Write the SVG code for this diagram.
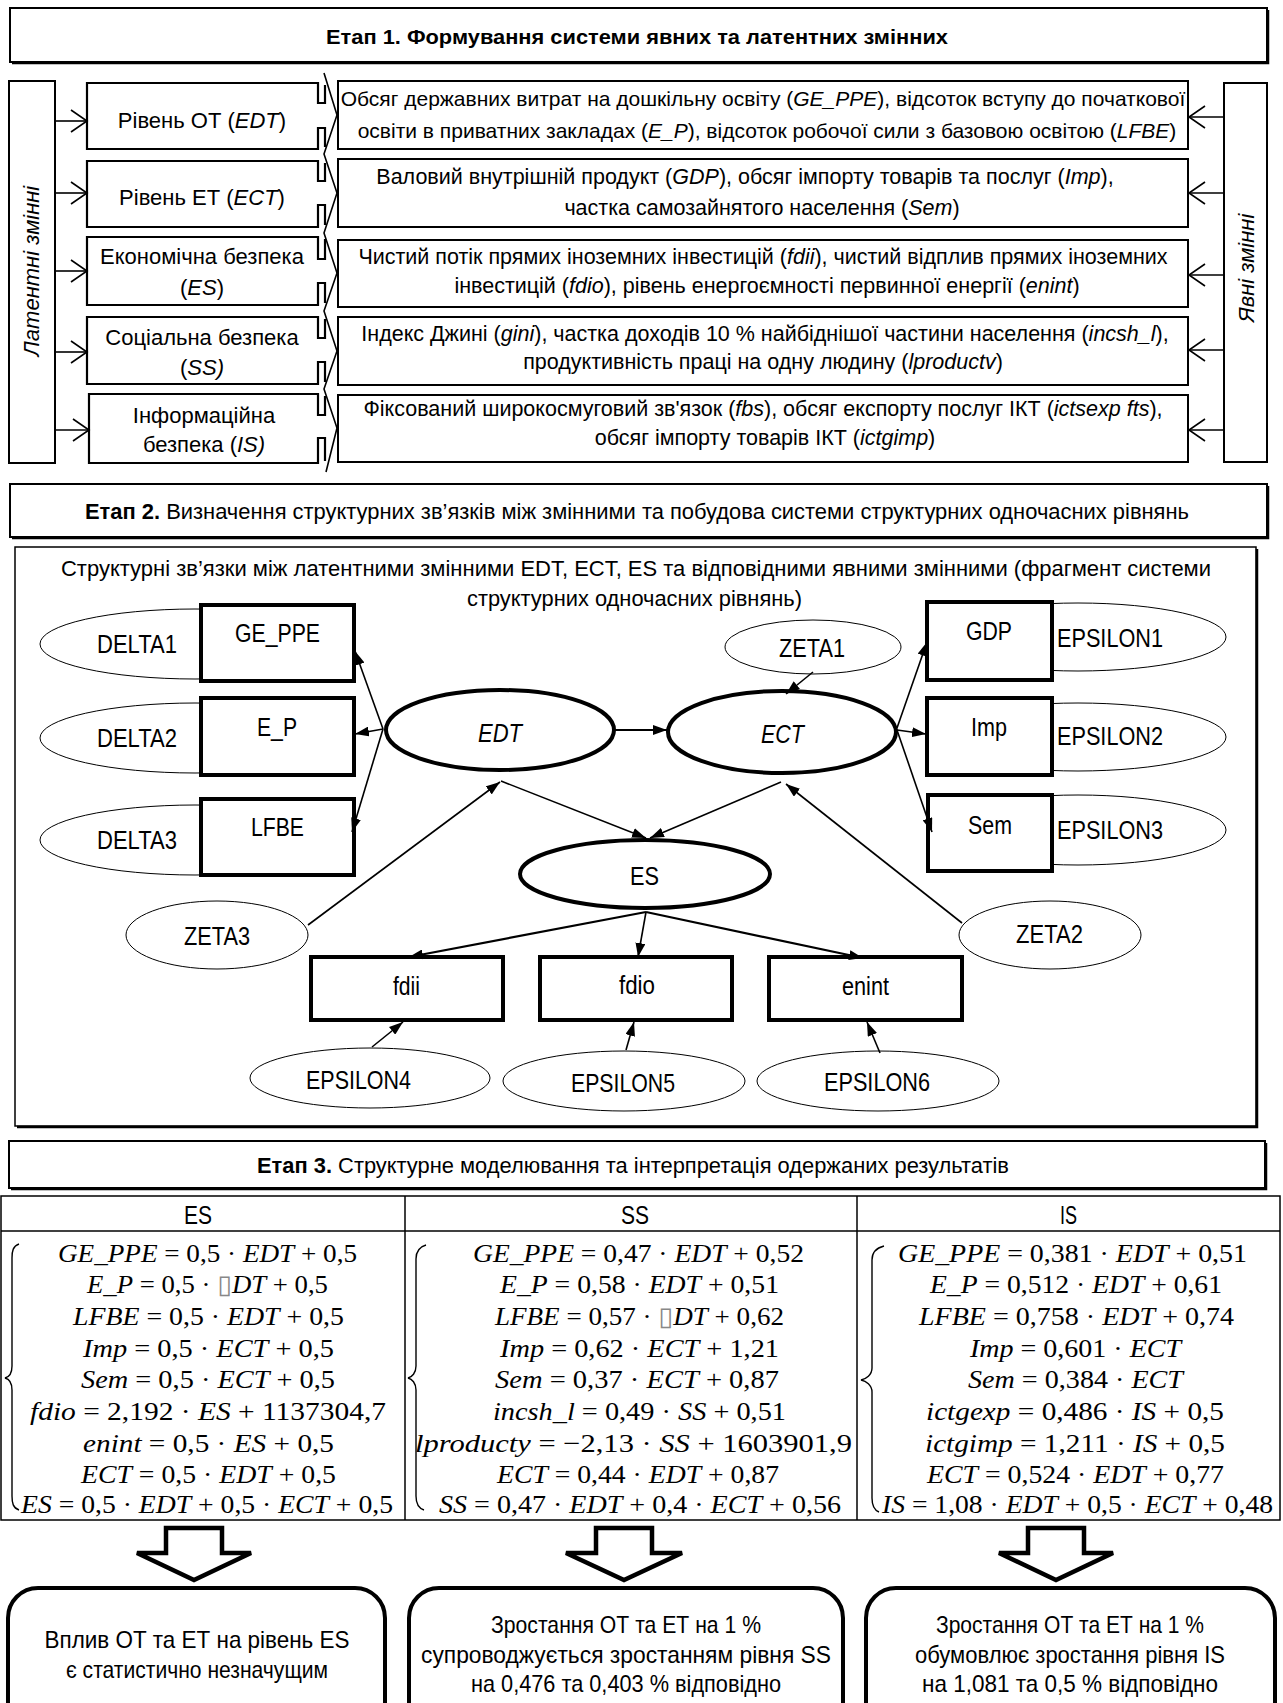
<svg xmlns="http://www.w3.org/2000/svg" width="1283" height="1703" viewBox="0 0 1283 1703">
<defs>
<style>
text { font-family: 'Liberation Sans', Arial, sans-serif; fill: #000; }
.s22 { font-size: 22px; }
.s21 { font-size: 21.5px; }
.i { font-style: italic; }
.b { font-weight: bold; }
.box { fill: #fff; stroke: #000; stroke-width: 2; }
.hdr { fill: #fff; stroke: #000; stroke-width: 2; }
.shadow { fill: none; stroke: #000; stroke-width: 2.5; }
.lat { fill: #fff; stroke: #000; stroke-width: 2.2; }
.zig { fill: none; stroke: #000; stroke-width: 1.6; }
.harrow { fill: none; stroke: #000; stroke-width: 1.6; marker-end: url(#openHead); }
.nar { font-size: 25px; }
.mbox { fill: #fff; stroke: #000; stroke-width: 4; }
.mlat { fill: #fff; stroke: #000; stroke-width: 4; }
.err { fill: #fff; stroke: #000; stroke-width: 1; }
.edge { fill: none; stroke: #000; stroke-width: 1.6; marker-end: url(#tri); }
.edge2 { fill: none; stroke: #000; stroke-width: 2.2; marker-end: url(#tri); }
.grid { fill: none; stroke: #000; stroke-width: 1.5; }
.brace { fill: none; stroke: #000; stroke-width: 1.4; }
.eq { font-family: 'Liberation Serif', 'DejaVu Serif', serif; font-size: 26px; }
.blk { fill: #fff; stroke: #000; stroke-width: 4.5; stroke-linejoin: miter; }
.res { fill: #fff; stroke: #000; stroke-width: 4; }
.rt { font-size: 24px; }
</style>
<marker id="openHead" markerUnits="userSpaceOnUse" markerWidth="20" markerHeight="26" refX="18" refY="12" orient="auto">
  <path d="M2,1 L18,12 L2,23" fill="none" stroke="#000" stroke-width="1.6"/>
</marker>
<marker id="tri" markerUnits="userSpaceOnUse" viewBox="0 0 14 10" markerWidth="14" markerHeight="10" refX="14" refY="5" orient="auto">
  <path d="M0,0 L14,5 L0,10 Z" fill="#000"/>
</marker>
</defs>

<rect width="1283" height="1703" fill="#fff"/>

<!-- ===== Stage 1 ===== -->
<g id="stage1-header">
  <rect class="hdr" x="10" y="8" width="1257" height="54"/>
  <polyline class="shadow" points="1268,10 1268,63 12,63"/>
  <text class="b" x="326" y="44" font-size="21" textLength="622" lengthAdjust="spacingAndGlyphs">Етап 1. Формування системи явних та латентних змінних</text>
</g>

<g id="latent-column">
  <rect class="box" x="9" y="81" width="46" height="382"/>
  <text class="s22 i" transform="translate(39,271) rotate(-90)" text-anchor="middle">Латентні змінні</text>
</g>

<g id="manifest-column">
  <rect class="box" x="1224" y="83" width="43" height="379"/>
  <text class="s22 i" transform="translate(1254,268) rotate(-90)" text-anchor="middle">Явні змінні</text>
</g>

<g id="latent-EDT">
  <path class="lat" d="M325,85 L325,103 L318,103 L318,83 L87,83 L87,149 L318,149 L318,128 L325,128 L325,147"/>
  <text class="s22" x="202" y="128" text-anchor="middle">Рівень ОТ (<tspan class="i">EDT</tspan>)</text>
</g>
<g id="latent-ECT">
  <path class="lat" d="M325,163 L325,181 L318,181 L318,161 L87,161 L87,227 L318,227 L318,205 L325,205 L325,225"/>
  <text class="s22" x="202" y="205" text-anchor="middle">Рівень ЕТ (<tspan class="i">ECT</tspan>)</text>
</g>
<g id="latent-ES">
  <path class="lat" d="M325,239 L325,259 L318,259 L318,237 L87,237 L87,305 L318,305 L318,283 L325,283 L325,303"/>
  <text class="s22" x="202" y="264" text-anchor="middle">Економічна безпека</text>
  <text class="s22" x="202" y="295" text-anchor="middle">(<tspan class="i">ES</tspan>)</text>
</g>
<g id="latent-SS">
  <path class="lat" d="M325,319 L325,338 L318,338 L318,317 L87,317 L87,384 L318,384 L318,362 L325,362 L325,382"/>
  <text class="s22" x="202" y="345" text-anchor="middle">Соціальна безпека</text>
  <text class="s22" x="202" y="375" text-anchor="middle">(<tspan class="i">SS)</tspan></text>
</g>
<g id="latent-IS">
  <path class="lat" d="M325,396 L325,415 L318,415 L318,394 L89,394 L89,463 L318,463 L318,438 L325,438 L325,461"/>
  <text class="s22" x="204" y="423" text-anchor="middle">Інформаційна</text>
  <text class="s22" x="204" y="452" text-anchor="middle">безпека (<tspan class="i">IS)</tspan></text>
</g>

<g id="manifest-EDT">
  <rect class="box" x="338" y="81" width="850" height="68"/>
  <text x="763" y="106" font-size="21" text-anchor="middle">Обсяг державних витрат на дошкільну освіту (<tspan class="i">GE_PPE</tspan>), відсоток вступу до початкової</text>
  <text x="767" y="138" font-size="21" text-anchor="middle">освіти в приватних закладах (<tspan class="i">E_P</tspan>), відсоток робочої сили з базовою освітою (<tspan class="i">LFBE</tspan>)</text>
</g>
<g id="manifest-ECT">
  <rect class="box" x="338" y="159" width="850" height="68"/>
  <text class="s21" x="745" y="184" text-anchor="middle">Валовий внутрішній продукт (<tspan class="i">GDP</tspan>), обсяг імпорту товарів та послуг (<tspan class="i">Imp</tspan>),</text>
  <text class="s21" x="762" y="215" text-anchor="middle">частка самозайнятого населення (<tspan class="i">Sem</tspan>)</text>
</g>
<g id="manifest-ES">
  <rect class="box" x="338" y="240" width="850" height="67"/>
  <text class="s21" x="763" y="264" text-anchor="middle">Чистий потік прямих іноземних інвестицій (<tspan class="i">fdii</tspan>), чистий відплив прямих іноземних</text>
  <text class="s21" x="767" y="293" text-anchor="middle">інвестицій (<tspan class="i">fdio</tspan>), рівень енергоємності первинної енергії (<tspan class="i">enint</tspan>)</text>
</g>
<g id="manifest-SS">
  <rect class="box" x="338" y="317" width="850" height="68"/>
  <text class="s21" x="765" y="341" text-anchor="middle">Індекс Джині (<tspan class="i">gini</tspan>), частка доходів 10 % найбіднішої частини населення (<tspan class="i">incsh_l</tspan>),</text>
  <text class="s21" x="763" y="369" text-anchor="middle">продуктивність праці на одну людину (<tspan class="i">lproductv</tspan>)</text>
</g>
<g id="manifest-IS">
  <rect class="box" x="338" y="395" width="850" height="67"/>
  <text class="s21" x="763" y="416" text-anchor="middle">Фіксований широкосмуговий зв'язок (<tspan class="i">fbs</tspan>), обсяг експорту послуг ІКТ (<tspan class="i">ictsexp fts</tspan>),</text>
  <text class="s21" x="765" y="445" text-anchor="middle">обсяг імпорту товарів ІКТ (<tspan class="i">ictgimp</tspan>)</text>
</g>

<g id="stage1-connectors">
  <line class="harrow" x1="55" y1="121" x2="87" y2="121"/>
  <line class="harrow" x1="55" y1="193" x2="87" y2="193"/>
  <line class="harrow" x1="55" y1="271" x2="87" y2="271"/>
  <line class="harrow" x1="55" y1="352" x2="87" y2="352"/>
  <line class="harrow" x1="55" y1="430" x2="89" y2="430"/>
  <line class="harrow" x1="1224" y1="117" x2="1189" y2="117"/>
  <line class="harrow" x1="1224" y1="193" x2="1189" y2="193"/>
  <line class="harrow" x1="1224" y1="275" x2="1189" y2="275"/>
  <line class="harrow" x1="1224" y1="350" x2="1189" y2="350"/>
  <line class="harrow" x1="1224" y1="430" x2="1189" y2="430"/>
  <polyline class="zig" points="324,73 337,115 324,154 337,193 324,233 337,273 324,311 337,351 324,389 337,428 326,472"/>
</g>

<!-- ===== Stage 2 ===== -->
<g id="stage2-header">
  <rect class="hdr" x="10" y="484" width="1257" height="53"/>
  <polyline class="shadow" points="1268,486 1268,538 12,538"/>
  <text x="85" y="519" font-size="22" textLength="1104" lengthAdjust="spacingAndGlyphs"><tspan class="b">Етап 2.</tspan> Визначення структурних зв’язків між змінними та побудова системи структурних одночасних рівнянь</text>
</g>

<g id="model-frame">
  <rect x="15" y="547" width="1241" height="579" fill="#fff" stroke="#000" stroke-width="1.5"/>
  <polyline class="shadow" points="1257,549 1257,1127 17,1127"/>
  <text x="61" y="576" font-size="22" textLength="1150" lengthAdjust="spacingAndGlyphs">Структурні зв’язки між латентними змінними EDT, ECT, ES та відповідними явними змінними (фрагмент системи</text>
  <text x="467" y="606" font-size="22" textLength="335" lengthAdjust="spacingAndGlyphs">структурних одночасних рівнянь)</text>
</g>

<!-- error terms sit behind their indicator boxes -->
<g id="DELTA1"><ellipse class="err" cx="195" cy="644" rx="155" ry="35"/><text class="nar" x="97" y="653" textLength="80" lengthAdjust="spacingAndGlyphs">DELTA1</text></g>
<g id="DELTA2"><ellipse class="err" cx="195" cy="738" rx="155" ry="35"/><text class="nar" x="97" y="747" textLength="80" lengthAdjust="spacingAndGlyphs">DELTA2</text></g>
<g id="DELTA3"><ellipse class="err" cx="195" cy="840" rx="155" ry="35"/><text class="nar" x="97" y="849" textLength="80" lengthAdjust="spacingAndGlyphs">DELTA3</text></g>
<g id="EPSILON1"><ellipse class="err" cx="1078" cy="637" rx="148" ry="34"/></g>
<g id="EPSILON2"><ellipse class="err" cx="1078" cy="737" rx="148" ry="34"/></g>
<g id="EPSILON3"><ellipse class="err" cx="1078" cy="830" rx="148" ry="35"/></g>

<g id="GE_PPE"><rect class="mbox" x="201" y="605" width="153" height="76"/><text class="nar" x="235" y="642" textLength="85" lengthAdjust="spacingAndGlyphs">GE_PPE</text></g>
<g id="E_P"><rect class="mbox" x="201" y="698" width="153" height="77"/><text class="nar" x="257" y="736" textLength="40" lengthAdjust="spacingAndGlyphs">E_P</text></g>
<g id="LFBE"><rect class="mbox" x="201" y="799" width="153" height="76"/><text class="nar" x="251" y="836" textLength="53" lengthAdjust="spacingAndGlyphs">LFBE</text></g>

<g id="GDP"><rect class="mbox" x="927" y="602" width="125" height="78"/><text class="nar" x="966" y="640" textLength="46" lengthAdjust="spacingAndGlyphs">GDP</text></g>
<g id="Imp"><rect class="mbox" x="927" y="698" width="125" height="77"/><text class="nar" x="971" y="736" textLength="36" lengthAdjust="spacingAndGlyphs">Imp</text></g>
<g id="Sem"><rect class="mbox" x="928" y="795" width="124" height="76"/><text class="nar" x="968" y="834" textLength="44" lengthAdjust="spacingAndGlyphs">Sem</text></g>

<g id="EPSILON-labels">
  <text class="nar" x="1057" y="647" textLength="106" lengthAdjust="spacingAndGlyphs">EPSILON1</text>
  <text class="nar" x="1057" y="745" textLength="106" lengthAdjust="spacingAndGlyphs">EPSILON2</text>
  <text class="nar" x="1057" y="839" textLength="106" lengthAdjust="spacingAndGlyphs">EPSILON3</text>
</g>

<g id="EDT"><ellipse class="mlat" cx="500" cy="730" rx="114" ry="40"/><text class="nar i" x="478" y="742" textLength="44" lengthAdjust="spacingAndGlyphs">EDT</text></g>
<g id="ECT"><ellipse class="mlat" cx="782" cy="732" rx="114" ry="41"/><text class="nar i" x="761" y="743" textLength="43" lengthAdjust="spacingAndGlyphs">ECT</text></g>
<g id="ES"><ellipse class="mlat" cx="645" cy="874" rx="125" ry="34"/><text class="nar" x="630" y="885" textLength="29" lengthAdjust="spacingAndGlyphs">ES</text></g>

<g id="ZETA1"><ellipse class="err" cx="813" cy="647" rx="88" ry="27"/><text class="nar" x="779" y="657" textLength="66" lengthAdjust="spacingAndGlyphs">ZETA1</text></g>
<g id="ZETA2"><ellipse class="err" cx="1050" cy="935" rx="91" ry="34"/><text class="nar" x="1016" y="943" textLength="67" lengthAdjust="spacingAndGlyphs">ZETA2</text></g>
<g id="ZETA3"><ellipse class="err" cx="217" cy="935" rx="91" ry="34"/><text class="nar" x="184" y="945" textLength="66" lengthAdjust="spacingAndGlyphs">ZETA3</text></g>

<g id="fdii"><rect class="mbox" x="311" y="957" width="192" height="63"/><text class="nar" x="393" y="995" textLength="27" lengthAdjust="spacingAndGlyphs">fdii</text></g>
<g id="fdio"><rect class="mbox" x="540" y="957" width="192" height="63"/><text class="nar" x="619" y="994" textLength="36" lengthAdjust="spacingAndGlyphs">fdio</text></g>
<g id="enint"><rect class="mbox" x="769" y="957" width="193" height="63"/><text class="nar" x="842" y="995" textLength="47" lengthAdjust="spacingAndGlyphs">enint</text></g>

<g id="EPSILON4"><ellipse class="err" cx="370" cy="1078" rx="120" ry="30"/><text class="nar" x="306" y="1089" textLength="105" lengthAdjust="spacingAndGlyphs">EPSILON4</text></g>
<g id="EPSILON5"><ellipse class="err" cx="624" cy="1081" rx="121" ry="30"/><text class="nar" x="571" y="1092" textLength="104" lengthAdjust="spacingAndGlyphs">EPSILON5</text></g>
<g id="EPSILON6"><ellipse class="err" cx="878" cy="1081" rx="121" ry="30"/><text class="nar" x="824" y="1091" textLength="106" lengthAdjust="spacingAndGlyphs">EPSILON6</text></g>

<g id="model-connectors">
  <line class="edge" x1="383" y1="729" x2="355" y2="651"/>
  <line class="edge" x1="383" y1="729" x2="355" y2="734"/>
  <line class="edge" x1="383" y1="729" x2="352" y2="832"/>
  <line class="edge2" x1="614" y1="730" x2="667" y2="730"/>
  <line class="edge" x1="813" y1="672" x2="786" y2="694"/>
  <line class="edge" x1="897" y1="728" x2="927" y2="642"/>
  <line class="edge" x1="897" y1="730" x2="926" y2="734"/>
  <line class="edge" x1="897" y1="730" x2="932" y2="832"/>
  <line class="edge" x1="501" y1="781" x2="646" y2="838"/>
  <line class="edge" x1="781" y1="782" x2="650" y2="838"/>
  <line class="edge" x1="308" y1="925" x2="500" y2="782"/>
  <line class="edge" x1="962" y1="923" x2="786" y2="784"/>
  <line class="edge2" x1="646" y1="912" x2="409" y2="957"/>
  <line class="edge" x1="646" y1="912" x2="638" y2="957"/>
  <line class="edge2" x1="646" y1="912" x2="863" y2="958"/>
  <line class="edge" x1="372" y1="1047" x2="403" y2="1022"/>
  <line class="edge" x1="626" y1="1050" x2="634" y2="1022"/>
  <line class="edge" x1="880" y1="1053" x2="867" y2="1022"/>
</g>

<!-- ===== Stage 3 ===== -->
<g id="stage3-header">
  <rect class="hdr" x="9" y="1141" width="1256" height="47"/>
  <polyline class="shadow" points="1266,1143 1266,1189 11,1189"/>
  <text x="257" y="1173" font-size="22" textLength="752" lengthAdjust="spacingAndGlyphs"><tspan class="b">Етап 3.</tspan> Структурне моделювання та інтерпретація одержаних результатів</text>
</g>

<g id="results-table">
  <rect class="grid" x="1" y="1196" width="1279" height="324"/>
  <line class="grid" x1="1" y1="1231" x2="1280" y2="1231"/>
  <line class="grid" x1="405" y1="1196" x2="405" y2="1520"/>
  <line class="grid" x1="857" y1="1196" x2="857" y2="1520"/>
  <text x="184" y="1224" font-size="25" textLength="28" lengthAdjust="spacingAndGlyphs">ES</text>
  <text x="621" y="1224" font-size="25" textLength="28" lengthAdjust="spacingAndGlyphs">SS</text>
  <text x="1060" y="1224" font-size="25" textLength="17" lengthAdjust="spacingAndGlyphs">IS</text>
  <path class="brace" d="M19,1244 C13,1246 12,1251 12,1258 L12,1366 C12,1373 9,1377 5,1378 C9,1379 12,1383 12,1390 L12,1496 C12,1503 13,1508 19,1510"/>
  <path class="brace" d="M426,1245 C419,1247 416,1252 416,1259 L416,1366 C416,1373 412,1377 408,1378 C412,1379 416,1383 416,1390 L416,1496 C416,1503 418,1508 424,1510"/>
  <path class="brace" d="M884,1246 C876,1248 872,1253 872,1260 L872,1368 C872,1375 866,1379 861,1380 C866,1381 872,1385 872,1392 L872,1498 C872,1505 874,1510 879,1512"/>
</g>

<g id="equations-ES">
  <text class="eq" x="58" y="1262" textLength="299" lengthAdjust="spacingAndGlyphs"><tspan class="i">GE_PPE</tspan> = 0,5 · <tspan class="i">EDT</tspan> + 0,5</text>
  <text class="eq" x="87" y="1293" textLength="241" lengthAdjust="spacingAndGlyphs"><tspan class="i">E_P</tspan> = 0,5 · <tspan fill="#888">▯</tspan><tspan class="i">DT</tspan> + 0,5</text>
  <text class="eq" x="73" y="1325" textLength="271" lengthAdjust="spacingAndGlyphs"><tspan class="i">LFBE</tspan> = 0,5 · <tspan class="i">EDT</tspan> + 0,5</text>
  <text class="eq" x="83" y="1357" textLength="251" lengthAdjust="spacingAndGlyphs"><tspan class="i">Imp</tspan> = 0,5 · <tspan class="i">ECT</tspan> + 0,5</text>
  <text class="eq" x="81" y="1388" textLength="254" lengthAdjust="spacingAndGlyphs"><tspan class="i">Sem</tspan> = 0,5 · <tspan class="i">ECT</tspan> + 0,5</text>
  <text class="eq" x="30" y="1420" textLength="356" lengthAdjust="spacingAndGlyphs"><tspan class="i">fdio</tspan> = 2,192 · <tspan class="i">ES</tspan> + 1137304,7</text>
  <text class="eq" x="83" y="1452" textLength="251" lengthAdjust="spacingAndGlyphs"><tspan class="i">enint</tspan> = 0,5 · <tspan class="i">ES</tspan> + 0,5</text>
  <text class="eq" x="81" y="1483" textLength="255" lengthAdjust="spacingAndGlyphs"><tspan class="i">ECT</tspan> = 0,5 · <tspan class="i">EDT</tspan> + 0,5</text>
  <text class="eq" x="21" y="1513" textLength="372" lengthAdjust="spacingAndGlyphs"><tspan class="i">ES</tspan> = 0,5 · <tspan class="i">EDT</tspan> + 0,5 · <tspan class="i">ECT</tspan> + 0,5</text>
</g>

<g id="equations-SS">
  <text class="eq" x="473" y="1262" textLength="331" lengthAdjust="spacingAndGlyphs"><tspan class="i">GE_PPE</tspan> = 0,47 · <tspan class="i">EDT</tspan> + 0,52</text>
  <text class="eq" x="500" y="1293" textLength="279" lengthAdjust="spacingAndGlyphs"><tspan class="i">E_P</tspan> = 0,58 · <tspan class="i">EDT</tspan> + 0,51</text>
  <text class="eq" x="495" y="1325" textLength="289" lengthAdjust="spacingAndGlyphs"><tspan class="i">LFBE</tspan> = 0,57 · <tspan fill="#888">▯</tspan><tspan class="i">DT</tspan> + 0,62</text>
  <text class="eq" x="500" y="1357" textLength="279" lengthAdjust="spacingAndGlyphs"><tspan class="i">Imp</tspan> = 0,62 · <tspan class="i">ECT</tspan> + 1,21</text>
  <text class="eq" x="495" y="1388" textLength="284" lengthAdjust="spacingAndGlyphs"><tspan class="i">Sem</tspan> = 0,37 · <tspan class="i">ECT</tspan> + 0,87</text>
  <text class="eq" x="493" y="1420" textLength="293" lengthAdjust="spacingAndGlyphs"><tspan class="i">incsh_l</tspan> = 0,49 · <tspan class="i">SS</tspan> + 0,51</text>
  <text class="eq" x="415" y="1452" textLength="437" lengthAdjust="spacingAndGlyphs"><tspan class="i">lproducty</tspan> = −2,13 · <tspan class="i">SS</tspan> + 1603901,9</text>
  <text class="eq" x="497" y="1483" textLength="282" lengthAdjust="spacingAndGlyphs"><tspan class="i">ECT</tspan> = 0,44 · <tspan class="i">EDT</tspan> + 0,87</text>
  <text class="eq" x="439" y="1513" textLength="402" lengthAdjust="spacingAndGlyphs"><tspan class="i">SS</tspan> = 0,47 · <tspan class="i">EDT</tspan> + 0,4 · <tspan class="i">ECT</tspan> + 0,56</text>
</g>

<g id="equations-IS">
  <text class="eq" x="898" y="1262" textLength="349" lengthAdjust="spacingAndGlyphs"><tspan class="i">GE_PPE</tspan> = 0,381 · <tspan class="i">EDT</tspan> + 0,51</text>
  <text class="eq" x="930" y="1293" textLength="292" lengthAdjust="spacingAndGlyphs"><tspan class="i">E_P</tspan> = 0,512 · <tspan class="i">EDT</tspan> + 0,61</text>
  <text class="eq" x="919" y="1325" textLength="315" lengthAdjust="spacingAndGlyphs"><tspan class="i">LFBE</tspan> = 0,758 · <tspan class="i">EDT</tspan> + 0,74</text>
  <text class="eq" x="970" y="1357" textLength="211" lengthAdjust="spacingAndGlyphs"><tspan class="i">Imp</tspan> = 0,601 · <tspan class="i">ECT</tspan></text>
  <text class="eq" x="968" y="1388" textLength="215" lengthAdjust="spacingAndGlyphs"><tspan class="i">Sem</tspan> = 0,384 · <tspan class="i">ECT</tspan></text>
  <text class="eq" x="926" y="1420" textLength="298" lengthAdjust="spacingAndGlyphs"><tspan class="i">ictgexp</tspan> = 0,486 · <tspan class="i">IS</tspan> + 0,5</text>
  <text class="eq" x="925" y="1452" textLength="300" lengthAdjust="spacingAndGlyphs"><tspan class="i">ictgimp</tspan> = 1,211 · <tspan class="i">IS</tspan> + 0,5</text>
  <text class="eq" x="927" y="1483" textLength="297" lengthAdjust="spacingAndGlyphs"><tspan class="i">ECT</tspan> = 0,524 · <tspan class="i">EDT</tspan> + 0,77</text>
  <text class="eq" x="882" y="1513" textLength="391" lengthAdjust="spacingAndGlyphs"><tspan class="i">IS</tspan> = 1,08 · <tspan class="i">EDT</tspan> + 0,5 · <tspan class="i">ECT</tspan> + 0,48</text>
</g>

<g id="result-arrows">
  <path class="blk" d="M166,1528 H222 V1553 H251 L194,1580 L137,1553 H166 Z"/>
  <path class="blk" d="M596,1528 H652 V1553 H682 L624,1580 L566,1553 H596 Z"/>
  <path class="blk" d="M1028,1528 H1084 V1553 H1113 L1056,1580 L999,1553 H1028 Z"/>
</g>

<g id="result-ES">
  <rect class="res" x="8" y="1588" width="377" height="150" rx="30" ry="30"/>
  <text class="rt" x="197" y="1648" text-anchor="middle" textLength="305" lengthAdjust="spacingAndGlyphs">Вплив ОТ та ЕТ на рівень ES</text>
  <text class="rt" x="197" y="1678" text-anchor="middle" textLength="262" lengthAdjust="spacingAndGlyphs">є статистично незначущим</text>
</g>
<g id="result-SS">
  <rect class="res" x="409" y="1588" width="434" height="150" rx="30" ry="30"/>
  <text class="rt" x="626" y="1633" text-anchor="middle" textLength="270" lengthAdjust="spacingAndGlyphs">Зростання ОТ та ЕТ на 1 %</text>
  <text class="rt" x="626" y="1663" text-anchor="middle" textLength="410" lengthAdjust="spacingAndGlyphs">супроводжується зростанням рівня SS</text>
  <text class="rt" x="626" y="1692" text-anchor="middle" textLength="310" lengthAdjust="spacingAndGlyphs">на 0,476 та 0,403 % відповідно</text>
</g>
<g id="result-IS">
  <rect class="res" x="866" y="1588" width="409" height="150" rx="30" ry="30"/>
  <text class="rt" x="1070" y="1633" text-anchor="middle" textLength="268" lengthAdjust="spacingAndGlyphs">Зростання ОТ та ЕТ на 1 %</text>
  <text class="rt" x="1070" y="1663" text-anchor="middle" textLength="310" lengthAdjust="spacingAndGlyphs">обумовлює зростання рівня IS</text>
  <text class="rt" x="1070" y="1692" text-anchor="middle" textLength="296" lengthAdjust="spacingAndGlyphs">на 1,081 та 0,5 % відповідно</text>
</g>
</svg>
